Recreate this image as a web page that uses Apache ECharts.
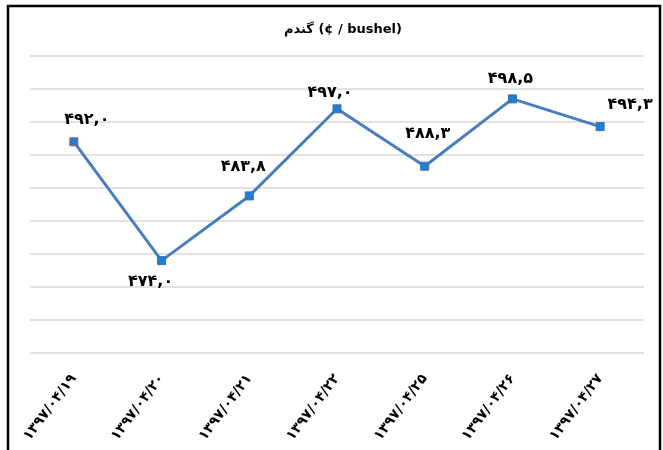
<!DOCTYPE html>
<html>
<head>
<meta charset="utf-8">
<script src="https://cdn.jsdelivr.net/npm/echarts@6/dist/echarts.min.js"></script>
<style>html,body{margin:0;padding:0;background:#fff;}#c{width:663px;height:450px;}</style>
</head>
<body>
<div id="c"></div>
<script>
var title = 'گندم (¢ / bushel)';
var categories = ['۱۳۹۷/۰۴/۱۹','۱۳۹۷/۰۴/۲۰','۱۳۹۷/۰۴/۲۱','۱۳۹۷/۰۴/۲۲','۱۳۹۷/۰۴/۲۵','۱۳۹۷/۰۴/۲۶','۱۳۹۷/۰۴/۲۷'];
var values = [492.0, 474.0, 483.8, 497.0, 488.3, 498.5, 494.3];
var yMin = 460, yMax = 505, yStep = 5;

function toFa(v) {
  var s = v.toFixed(1).replace('.', ',');
  return s.replace(/[0-9]/g, function (d) { return '۰۱۲۳۴۵۶۷۸۹'[+d]; });
}

// label placement relative to each marker (layout only)
var labelOffsets = [[13, -22], [-11, 21], [-6, -29], [-7, -16], [3, -32], [-2, -20], [30, -22]];

var seriesData = values.map(function (v, i) {
  var item = {
    value: v,
    label: {position: 'inside', offset: labelOffsets[i]}
  };
  if (i === 0) item.itemStyle = {borderColor: '#c0504d'};
  return item;
});

var chart = echarts.init(document.getElementById('c'), null, {renderer: 'canvas'});
chart.setOption({
  animation: false,
  backgroundColor: '#fff',
  title: {
    text: title,
    left: 279,
    top: 18,
    textStyle: {fontFamily: 'DejaVu Sans', fontSize: 13, fontWeight: 'bold', color: '#000'}
  },
  graphic: [{
    type: 'rect',
    shape: {x: 8, y: 6, width: 652, height: 460},
    style: {fill: 'none', stroke: '#000', lineWidth: 2.5},
    silent: true
  }],
  grid: {left: 30, right: 19, top: 56, bottom: 97},
  xAxis: {
    type: 'category',
    data: categories,
    boundaryGap: true,
    axisLine: {show: false},
    axisTick: {show: false},
    axisLabel: {
      rotate: 53,
      interval: 0,
      margin: 23,
      fontFamily: 'DejaVu Sans',
      fontSize: 14,
      fontWeight: 'bold',
      color: '#000'
    }
  },
  yAxis: {
    type: 'value',
    min: yMin,
    max: yMax,
    interval: yStep,
    axisLabel: {show: false},
    axisLine: {show: false},
    axisTick: {show: false},
    splitLine: {lineStyle: {color: '#d9d9d9', width: 1.5}}
  },
  series: [{
    type: 'line',
    data: seriesData,
    symbol: 'rect',
    symbolSize: 8,
    lineStyle: {color: '#4a7ebb', width: 3},
    itemStyle: {color: '#1f7fd6', borderColor: '#3f6fa8', borderWidth: 1},
    label: {
      show: true,
      fontFamily: 'DejaVu Sans',
      fontSize: 16,
      fontWeight: 'bold',
      color: '#000',
      formatter: function (p) { return toFa(p.value); }
    }
  }]
});
</script>
</body>
</html>
